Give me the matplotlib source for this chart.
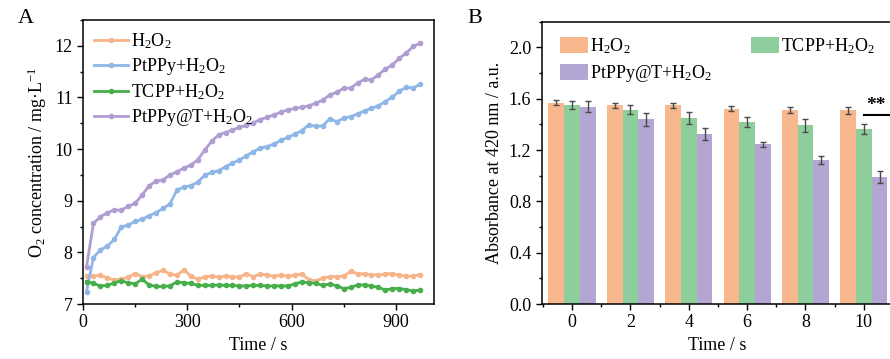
import numpy as np
import matplotlib
matplotlib.use('Agg')
import matplotlib.pyplot as plt
from matplotlib.ticker import MultipleLocator, FormatStrFormatter

plt.rcParams['font.family'] = ['Liberation Serif', 'DejaVu Serif']
plt.rcParams['mathtext.fontset'] = 'custom'
plt.rcParams['mathtext.rm'] = 'Liberation Serif'
plt.rcParams['mathtext.it'] = 'Liberation Serif:italic'
plt.rcParams['font.size'] = 13

# panel A data (time in s, O2 in mg/L)
time_a = list(range(10, 971, 20))
h2o2 = [7.55, 7.54, 7.56, 7.50, 7.47, 7.48, 7.52, 7.59, 7.53, 7.54,
        7.61, 7.65, 7.58, 7.56, 7.66, 7.54, 7.48, 7.53, 7.54, 7.52,
        7.54, 7.53, 7.52, 7.59, 7.53, 7.58, 7.56, 7.54, 7.56, 7.54,
        7.56, 7.58, 7.47, 7.45, 7.50, 7.53, 7.53, 7.54, 7.63, 7.59,
        7.58, 7.57, 7.56, 7.58, 7.59, 7.56, 7.54, 7.54, 7.57]
ptppy = [7.24, 7.90, 8.05, 8.12, 8.25, 8.49, 8.53, 8.60, 8.64, 8.71,
         8.77, 8.85, 8.94, 9.20, 9.27, 9.29, 9.36, 9.49, 9.55, 9.58,
         9.66, 9.73, 9.79, 9.87, 9.95, 10.02, 10.05, 10.10, 10.17, 10.23,
         10.29, 10.36, 10.47, 10.44, 10.45, 10.59, 10.53, 10.60, 10.63, 10.68,
         10.74, 10.79, 10.84, 10.92, 11.01, 11.12, 11.20, 11.18, 11.26]
tcpp = [7.43, 7.40, 7.35, 7.36, 7.41, 7.45, 7.41, 7.39, 7.48, 7.37,
        7.34, 7.34, 7.35, 7.43, 7.41, 7.40, 7.36, 7.36, 7.36, 7.37,
        7.36, 7.36, 7.35, 7.35, 7.36, 7.36, 7.35, 7.35, 7.35, 7.35,
        7.39, 7.43, 7.41, 7.40, 7.36, 7.39, 7.35, 7.30, 7.32, 7.37,
        7.37, 7.35, 7.32, 7.27, 7.30, 7.30, 7.28, 7.25, 7.27]
ptppy_t = [7.72, 8.56, 8.69, 8.77, 8.82, 8.82, 8.89, 8.95, 9.11, 9.29,
           9.38, 9.40, 9.50, 9.56, 9.63, 9.69, 9.79, 9.98, 10.15, 10.28,
           10.32, 10.37, 10.42, 10.46, 10.51, 10.57, 10.62, 10.66, 10.72, 10.76,
           10.79, 10.81, 10.84, 10.89, 10.95, 11.05, 11.10, 11.18, 11.18, 11.28,
           11.35, 11.34, 11.44, 11.55, 11.63, 11.76, 11.86, 11.99, 12.05]

# panel B data
time_b = [0, 2, 4, 6, 8, 10]
abs_h2o2 = [1.570, 1.549, 1.547, 1.521, 1.513, 1.508]
err_h2o2 = [0.023, 0.020, 0.020, 0.020, 0.025, 0.030]
abs_tcpp = [1.552, 1.513, 1.448, 1.417, 1.391, 1.365]
err_tcpp = [0.032, 0.035, 0.048, 0.040, 0.050, 0.040]
abs_pt = [1.539, 1.438, 1.326, 1.244, 1.124, 0.990]
err_pt = [0.040, 0.048, 0.045, 0.022, 0.032, 0.050]

fig = plt.figure(figsize=(8.9, 3.59), dpi=100)

# ---- A ----
ax = fig.add_axes([0.0933, 0.1532, 0.3944, 0.7911])
kw = dict(lw=2.0, marker='o', ms=3)
ax.plot(time_a, h2o2, color='#F5B48A', label='H$_2$O$_2$', **kw)
ax.plot(time_a, ptppy, color='#8EB6E6', label='PtPPy+H$_2$O$_2$', **kw)
ax.plot(time_a, tcpp, color='#46AE4A', label='TCPP+H$_2$O$_2$', **kw)
ax.plot(time_a, ptppy_t, color='#B09DD2', label='PtPPy@T+H$_2$O$_2$', **kw)
ax.set_xlim(0, 1010)
ax.set_ylim(7, 12.5)
ax.xaxis.set_major_locator(MultipleLocator(300))
ax.xaxis.set_minor_locator(MultipleLocator(150))
ax.yaxis.set_major_locator(MultipleLocator(1))
ax.yaxis.set_minor_locator(MultipleLocator(0.5))
ax.tick_params(which='both', direction='out', width=1)
ax.tick_params(which='major', length=4)
ax.tick_params(which='minor', length=2.5)
ax.set_xlabel('Time / s')
ax.set_ylabel('O$_2$ concentration / mg·L$^{-1}$')
ax.legend(loc='upper left', frameon=False, handlelength=1.9, handletextpad=0.15,
          labelspacing=0.3, borderaxespad=0.2, bbox_to_anchor=(0.0, 1.0))
for s in ax.spines.values():
    s.set_linewidth(1.1)
fig.text(0.02, 0.935, 'A', fontsize=16)

# ---- B ----
bx = fig.add_axes([0.6087, 0.1532, 0.3947, 0.7864])
x = np.array(time_b, dtype=float)
w = 0.54
ekw = dict(ecolor='#4a4a4a', elinewidth=1, capsize=2.5, capthick=1)
bx.bar(x - w, abs_h2o2, w, yerr=err_h2o2, color='#F7B88E', label='H$_2$O$_2$', error_kw=ekw)
bx.bar(x + w, abs_pt, w, yerr=err_pt, color='#B3A6D2', label='PtPPy@T+H$_2$O$_2$', error_kw=ekw)
bx.bar(x, abs_tcpp, w, yerr=err_tcpp, color='#8DCE9C', label='TCPP+H$_2$O$_2$', error_kw=ekw)
bx.set_xlim(-1.04, 11)
bx.set_ylim(0, 2.2)
bx.set_xticks(time_b)
bx.xaxis.set_minor_locator(MultipleLocator(1))
bx.yaxis.set_major_locator(MultipleLocator(0.4))
bx.yaxis.set_minor_locator(MultipleLocator(0.2))
bx.yaxis.set_major_formatter(FormatStrFormatter('%.1f'))
bx.tick_params(which='both', direction='out', width=1)
bx.tick_params(which='major', length=4)
bx.tick_params(which='minor', length=2.5)
bx.set_xlabel('Time / s')
bx.set_ylabel('Absorbance at 420 nm / a.u.')
bx.legend(loc='upper left', ncol=2, frameon=False, handlelength=1.55, handleheight=1.0,
          handletextpad=0.15, labelspacing=0.4, columnspacing=2.1,
          borderaxespad=0.4, bbox_to_anchor=(0.01, 1.0))
for s in bx.spines.values():
    s.set_linewidth(1.1)
bx.plot([10, 11.2], [1.47, 1.47], color='black', lw=1.5, clip_on=False)
bx.text(10.4, 1.48, '**', ha='center', va='bottom', fontsize=14, fontweight='bold')
fig.text(0.525, 0.935, 'B', fontsize=16)

fig.savefig('out.png', dpi=100)
